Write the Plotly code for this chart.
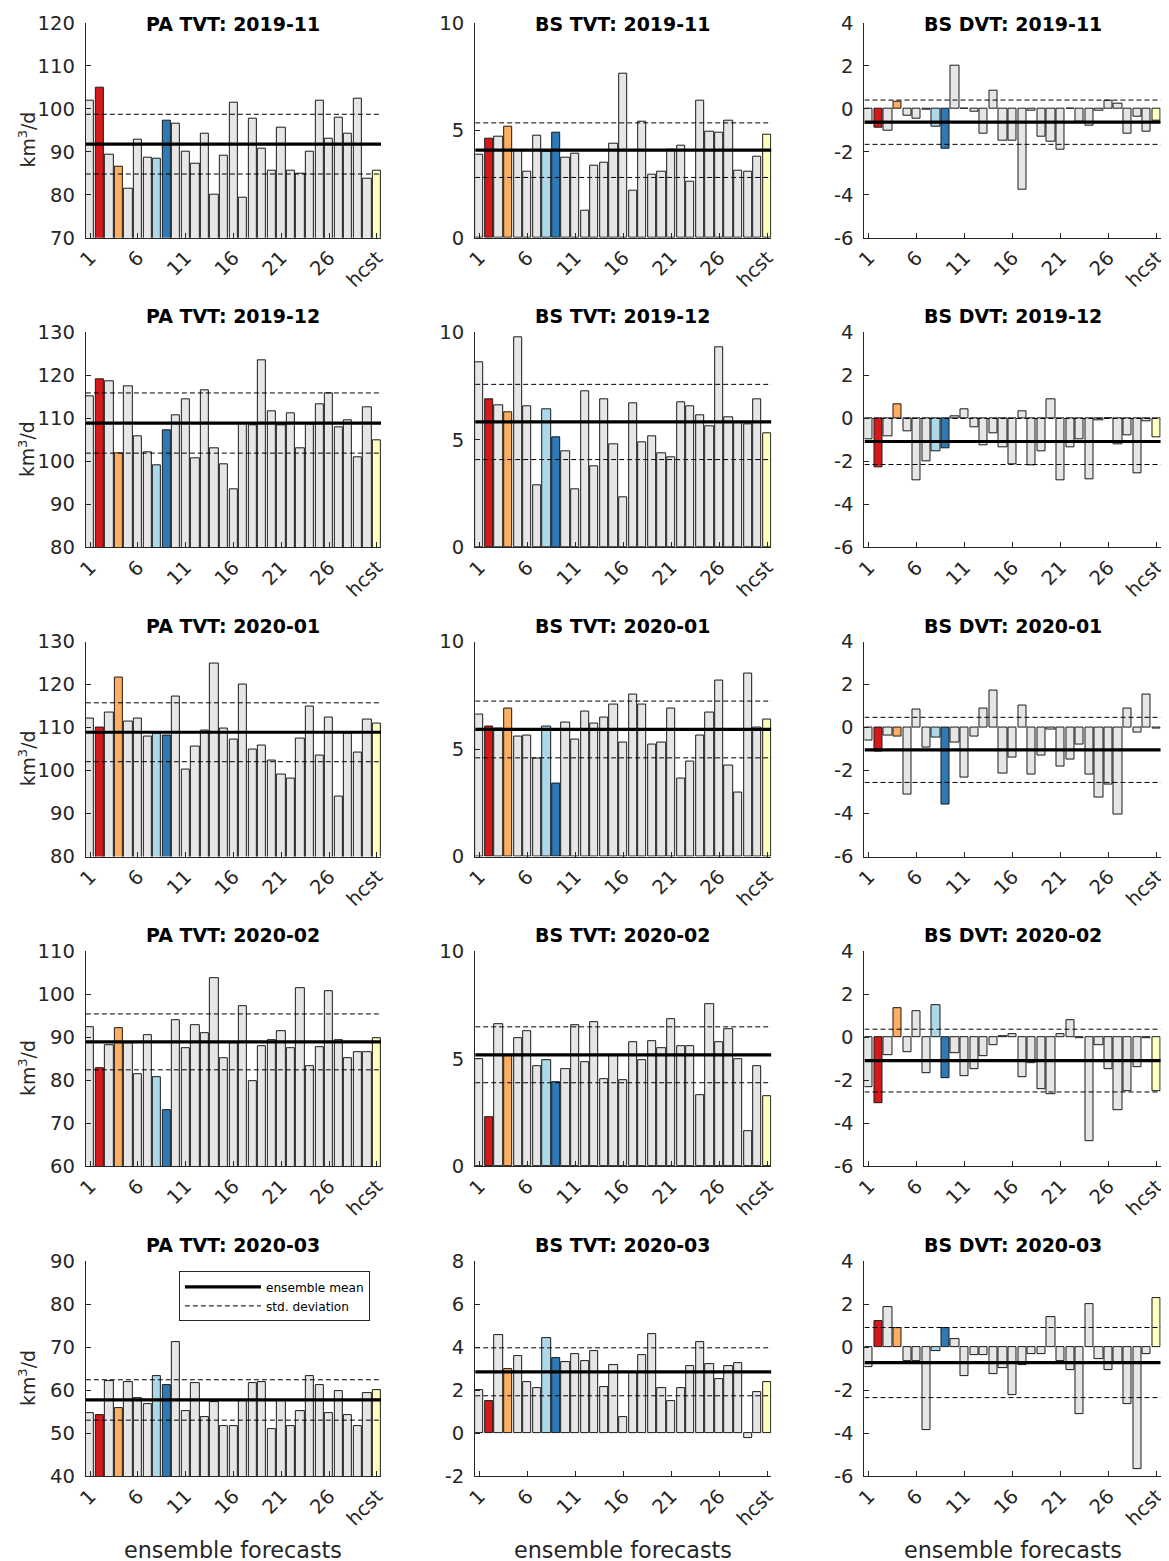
import plotly.graph_objects as go
from plotly.subplots import make_subplots

W, H = 1169, 1561

months = ["2019-11", "2019-12", "2020-01", "2020-02", "2020-03"]
members = list(range(1, 32))  # 30 ensemble members, then the hindcast
tick_vals = [1, 6, 11, 16, 21, 26, 31]
tick_text = ["1", "6", "11", "16", "21", "26", "hcst"]

# PA TVT (km3/d); last value of each list is hcst
pa_tvt_1911 = [101.8, 104.8, 89.3, 86.4, 81.5, 92.9, 88.5, 88.3, 97.1, 96.6, 90.1, 87.3, 94.1, 80.1, 89.0, 101.5,
               79.4, 97.6, 90.6, 85.5, 95.5, 85.5, 84.8, 90.0, 101.8, 93.0, 98.0, 94.2, 102.3, 83.8, 85.6]
pa_tvt_1912 = [115.1, 119.1, 118.5, 101.9, 117.5, 105.7, 102.1, 99.0, 107.1, 110.8, 114.5, 100.7, 116.6, 103.1, 99.2,
               93.5, 108.8, 108.3, 123.4, 111.7, 108.3, 111.2, 103.1, 108.6, 113.2, 115.7, 108.0, 109.6, 100.9, 112.6,
               104.9]
pa_tvt_2001 = [112.2, 110.1, 113.4, 121.6, 111.3, 112.2, 107.9, 108.5, 108.1, 117.3, 100.2, 105.5, 109.2, 124.8, 109.7,
               107.2, 119.9, 104.8, 105.8, 102.4, 99.0, 98.1, 107.4, 114.8, 103.4, 112.3, 93.9, 108.6, 104.1, 111.8,
               110.9]
pa_tvt_2002 = [92.4, 82.9, 88.1, 92.0, 88.7, 81.5, 90.5, 80.7, 72.9, 93.9, 87.5, 92.9, 90.9, 103.7, 85.0, 88.7, 97.1,
               79.8, 87.8, 89.4, 91.5, 87.5, 101.5, 83.3, 87.7, 100.6, 89.4, 85.0, 86.6, 86.6, 89.8]
pa_tvt_2003 = [54.7, 54.2, 62.2, 55.8, 61.9, 58.2, 56.7, 63.2, 61.2, 71.2, 55.0, 61.6, 53.8, 57.3, 51.6, 51.7, 57.6,
               61.6, 61.9, 51.0, 57.6, 51.7, 55.0, 63.3, 61.2, 54.7, 59.8, 54.1, 51.7, 59.4, 60.1]
pa_tvt_mean = [91.75, 108.9, 108.9, 88.9, 57.7]
pa_tvt_std = [6.95, 7.0, 6.85, 6.5, 4.7]

# BS TVT (km3/d)
bs_tvt_1911 = [3.84, 4.6, 4.69, 5.15, 4.05, 3.05, 4.74, 3.98, 4.89, 3.72, 3.92, 1.25, 3.33, 3.47, 4.38, 7.62, 2.17,
               5.4, 2.91, 3.05, 4.1, 4.27, 2.62, 6.38, 4.94, 4.86, 5.43, 3.1, 3.08, 3.75, 4.77]
bs_tvt_1912 = [8.6, 6.88, 6.61, 6.27, 9.75, 6.58, 2.89, 6.44, 5.11, 4.47, 2.69, 7.24, 3.77, 6.89, 4.8, 2.33, 6.68,
               4.89, 5.16, 4.35, 4.19, 6.74, 6.58, 6.12, 5.64, 9.3, 6.04, 5.83, 5.71, 6.88, 5.28]
bs_tvt_2001 = [6.59, 6.05, 5.97, 6.88, 5.59, 5.63, 4.57, 6.06, 3.41, 6.23, 5.46, 6.76, 6.2, 6.48, 7.05, 5.32, 7.53,
               7.08, 5.19, 5.29, 6.88, 3.64, 4.43, 5.65, 6.7, 8.18, 4.21, 2.96, 8.52, 6.02, 6.39]
bs_tvt_2002 = [4.99, 2.26, 6.59, 5.15, 5.95, 6.29, 4.65, 4.93, 3.91, 4.51, 6.56, 4.85, 6.68, 4.06, 5.15, 4.0, 5.75,
               4.95, 5.81, 5.49, 6.85, 5.58, 5.6, 3.3, 7.55, 5.78, 6.39, 4.99, 1.63, 4.64, 3.27]
bs_tvt_2003 = [2.0, 1.5, 4.56, 2.99, 3.6, 2.37, 2.09, 4.42, 3.49, 3.32, 3.67, 3.35, 3.8, 2.14, 3.16, 0.74, 2.84, 3.64,
               4.6, 2.09, 1.49, 2.09, 3.12, 4.23, 3.21, 2.53, 3.1, 3.26, -0.25, 1.89, 2.39]
bs_tvt_mean = [4.07, 5.83, 5.91, 5.18, 2.85]
bs_tvt_std = [1.27, 1.75, 1.32, 1.3, 1.115]

# BS DVT (km3/d)
bs_dvt_1911 = [-0.7, -0.87, -1.04, 0.31, -0.31, -0.45, -0.03, -0.82, -1.84, 1.98, -0.02, -0.15, -1.17, 0.84, -1.48,
               -1.48, -3.76, -0.1, -1.3, -1.55, -1.92, 0.02, -0.62, -0.8, -0.08, 0.37, 0.22, -1.17, -0.35, -1.07,
               -0.55]
bs_dvt_1912 = [-1.0, -2.28, -0.85, 0.66, -0.6, -2.88, -1.98, -1.53, -1.39, 0.08, 0.43, -0.41, -1.25, -0.69, -1.34,
               -2.14, 0.33, -2.21, -1.53, 0.89, -2.87, -1.33, -0.97, -2.85, -0.1, -0.02, -1.2, -0.78, -2.54, -0.15,
               -0.88]
bs_dvt_2001 = [-0.62, -1.11, -0.39, -0.43, -3.14, 0.82, -0.94, -0.48, -3.59, -0.68, -2.34, -0.43, 0.9, 1.7, -2.15,
               -1.39, 1.0, -2.2, -1.32, -0.11, -1.83, -1.5, -0.79, -2.2, -3.27, -2.65, -4.06, 0.87, -0.25, 1.55,
               -0.03]
bs_dvt_2002 = [-2.33, -3.08, -0.83, 1.34, -0.72, 1.21, -1.68, 1.48, -1.91, -0.75, -1.83, -1.5, -0.88, -0.39, 0.03,
               0.13, -1.86, -1.2, -2.4, -2.64, 0.16, 0.78, -0.03, -4.85, -0.36, -1.48, -3.39, -2.51, -1.39, -0.05,
               -2.51]
bs_dvt_2003 = [-0.93, 1.19, 1.88, 0.9, -0.65, -0.65, -3.85, -0.21, 0.86, 0.38, -1.35, -0.39, -0.39, -1.24, -0.98,
               -2.25, -0.85, -0.33, -0.33, 1.4, -0.65, -1.08, -3.12, 1.99, -0.57, -1.06, -0.7, -2.66, -5.68, -0.34,
               2.27]
bs_dvt_mean = [-0.63, -1.08, -1.04, -1.09, -0.72]
bs_dvt_std = [1.03, 1.07, 1.515, 1.46, 1.63]

pa_ticks = [[70, 80, 90, 100, 110, 120], [80, 90, 100, 110, 120, 130], [80, 90, 100, 110, 120, 130],
            [60, 70, 80, 90, 100, 110], [40, 50, 60, 70, 80, 90]]
bs_tvt_ticks = [[0, 5, 10], [0, 5, 10], [0, 5, 10], [0, 5, 10], [-2, 0, 2, 4, 6, 8]]
bs_dvt_ticks = [-6, -4, -2, 0, 2, 4]

# bar colours: highlighted members and the hindcast
GRAY = "#e6e6e6"
bar_colors = [GRAY] * 31
bar_colors[1] = "#d7191c"
bar_colors[3] = "#fdae61"
bar_colors[7] = "#abd9e9"
bar_colors[8] = "#2c7bb6"
bar_colors[30] = "#ffffbf"

FONT = "DejaVu Sans"
AX = "#262626"
XLIM = [0.55, 31.45]

# the page shows the figure slightly shrunk and offset; place things in screen pixels
OFF_X, OFF_Y, SC = 17.2, 19.3, 0.9855


def px(X):
    return (X - OFF_X) / SC / W


def py(Y):
    return 1 - (Y - OFF_Y) / SC / H


def fs(v):
    return v / SC


# screen-pixel layout of the 5x3 grid
col_left = [85, 474, 863]
col_right = [380, 770, 1159]
row_top = [23, 332.7, 642, 951.7, 1261.7]
ax_h = 215

fig = make_subplots(rows=5, cols=3)

pa_all = [pa_tvt_1911, pa_tvt_1912, pa_tvt_2001, pa_tvt_2002, pa_tvt_2003]
tvt_all = [bs_tvt_1911, bs_tvt_1912, bs_tvt_2001, bs_tvt_2002, bs_tvt_2003]
dvt_all = [bs_dvt_1911, bs_dvt_1912, bs_dvt_2001, bs_dvt_2002, bs_dvt_2003]
panels = []
for r in range(5):
    panels.append(("PA TVT", r, 0, pa_all[r], pa_tvt_mean[r], pa_tvt_std[r], pa_ticks[r]))
    panels.append(("BS TVT", r, 1, tvt_all[r], bs_tvt_mean[r], bs_tvt_std[r], bs_tvt_ticks[r]))
    panels.append(("BS DVT", r, 2, dvt_all[r], bs_dvt_mean[r], bs_dvt_std[r], bs_dvt_ticks))

annotations = []
for name, r, c, vals, m, s, yt in panels:
    show_leg = (r == 4 and c == 0)
    fig.add_trace(go.Bar(
        x=members, y=vals, width=0.86,
        marker=dict(color=bar_colors, line=dict(color="#1a1a1a", width=1)),
        showlegend=False, hoverinfo="x+y"), row=r + 1, col=c + 1)
    fig.add_trace(go.Scatter(
        x=XLIM, y=[m, m], mode="lines", line=dict(color="black", width=3.2),
        name="ensemble mean", showlegend=show_leg), row=r + 1, col=c + 1)
    for k, sgn in enumerate([1, -1]):
        fig.add_trace(go.Scatter(
            x=XLIM, y=[m + sgn * s] * 2, mode="lines",
            line=dict(color="black", width=1, dash="5px,3px"),
            name="std. deviation", showlegend=show_leg and k == 0), row=r + 1, col=c + 1)

    idx = r * 3 + c + 1
    sfx = "" if idx == 1 else str(idx)
    x0, x1 = px(col_left[c]), px(col_right[c])
    y1, y0 = py(row_top[r]), py(row_top[r] + ax_h)
    fig.layout["xaxis" + sfx].update(
        domain=[x0, x1], range=XLIM, tickmode="array", tickvals=tick_vals, ticktext=tick_text,
        tickangle=-45, ticks="inside", ticklen=5, tickcolor=AX, showline=True, linecolor=AX,
        linewidth=1, showgrid=False, zeroline=False,
        tickfont=dict(family=FONT, size=fs(19.3), color=AX))
    fig.layout["yaxis" + sfx].update(
        domain=[y0, y1], range=[yt[0], yt[-1]], tickmode="array", tickvals=yt,
        ticktext=[str(v) for v in yt],
        ticks="inside", ticklen=5, tickcolor=AX, showline=True, linecolor=AX, linewidth=1,
        showgrid=False, zeroline=False, ticklabelstandoff=6,
        tickfont=dict(family=FONT, size=fs(19.3), color=AX))

    title_y = 37 if r == 0 else row_top[r] - 3
    annotations.append(dict(
        text="<b>%s: %s</b>" % (name, months[r]), xref="paper", yref="paper",
        x=(x0 + x1) / 2, y=py(title_y), xanchor="center", yanchor="bottom",
        showarrow=False, font=dict(family=FONT, size=fs(18.7), color="black")))
    if c == 0:
        annotations.append(dict(
            text="km<sup>3</sup>/d", xref="paper", yref="paper", textangle=-90,
            x=px(26), y=py(row_top[r] + 117), xanchor="center", yanchor="middle",
            showarrow=False, font=dict(family=FONT, size=fs(18.5), color=AX)))
    if r == 4:
        annotations.append(dict(
            text="ensemble forecasts", xref="paper", yref="paper",
            x=(x0 + x1) / 2, y=py(1551), xanchor="center", yanchor="middle",
            showarrow=False, font=dict(family=FONT, size=fs(22), color=AX)))

fig.update_layout(
    width=W, height=H, margin=dict(l=0, r=0, t=0, b=0),
    paper_bgcolor="white", plot_bgcolor="white",
    bargap=0, annotations=annotations,
    legend=dict(x=px(178), y=py(1272), xanchor="left", yanchor="top",
                bordercolor=AX, borderwidth=1, bgcolor="white", itemwidth=76,
                font=dict(family=FONT, size=fs(12), color="black"), tracegroupgap=0),
    font=dict(family=FONT),
)

fig.write_html("out.html")
